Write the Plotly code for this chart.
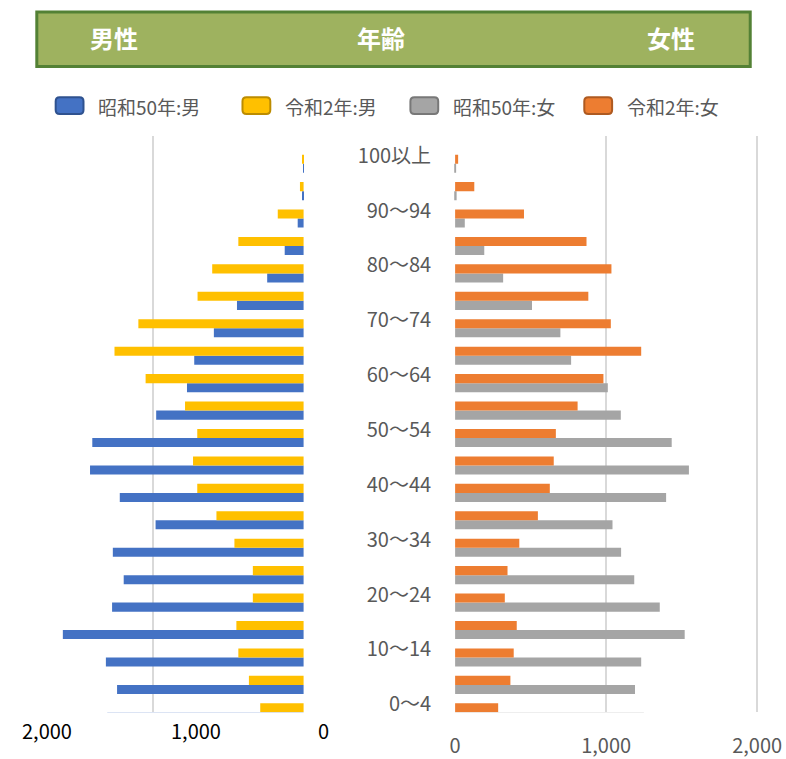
import plotly.graph_objects as go

W, H = 786, 759

ages = ["0〜4", "5〜9", "10〜14", "15〜19", "20〜24", "25〜29", "30〜34", "35〜39",
        "40〜44", "45〜49", "50〜54", "55〜59", "60〜64", "65〜69", "70〜74", "75〜79",
        "80〜84", "85〜89", "90〜94", "95〜99", "100以上"]
age_ticks = ["0〜4", "10〜14", "20〜24", "30〜34", "40〜44", "50〜54",
             "60〜64", "70〜74", "80〜84", "90〜94", "100以上"]

male_s50 = [1300, 1235, 1309, 1594, 1268, 1191, 1263, 980, 1217, 1414, 1399,
            976, 772, 724, 594, 441, 241, 125, 39, 7, 1]
male_r2 = [287, 362, 432, 445, 336, 336, 458, 577, 704, 732, 704,
           785, 1046, 1252, 1094, 702, 605, 432, 171, 24, 5]
female_s50 = [1250, 1191, 1232, 1520, 1355, 1186, 1099, 1042, 1397, 1548, 1434,
              1097, 1011, 768, 697, 509, 318, 193, 64, 10, 1]
female_r2 = [285, 366, 388, 408, 329, 347, 425, 548, 627, 653, 667,
             811, 982, 1232, 1031, 882, 1035, 870, 456, 127, 20]

series_names = ["昭和50年:男", "令和2年:男", "昭和50年:女", "令和2年:女"]
colors = ["#4472C4", "#FFC000", "#A5A5A5", "#ED7D31"]
border_colors = ["#2F528F", "#BC8C00", "#787878", "#AE5A21"]
header_labels = ["男性", "年齢", "女性"]
x_ticks = [0, 1000, 2000]
x_ticktext = ["0", "1,000", "2,000"]

FONT = "Noto Sans CJK JP"

fig = go.Figure()
fig.add_trace(go.Bar(y=ages, x=male_s50, orientation="h", name=series_names[0],
                     marker=dict(color=colors[0], line=dict(width=0)),
                     xaxis="x", yaxis="y", showlegend=False))
fig.add_trace(go.Bar(y=ages, x=male_r2, orientation="h", name=series_names[1],
                     marker=dict(color=colors[1], line=dict(width=0)),
                     xaxis="x", yaxis="y", showlegend=False))
fig.add_trace(go.Bar(y=ages, x=female_s50, orientation="h", name=series_names[2],
                     marker=dict(color=colors[2], line=dict(width=0)),
                     xaxis="x2", yaxis="y2", showlegend=False))
fig.add_trace(go.Bar(y=ages, x=female_r2, orientation="h", name=series_names[3],
                     marker=dict(color=colors[3], line=dict(width=0)),
                     xaxis="x2", yaxis="y2", showlegend=False))

px_per_unit = 0.152
left_zero = 300.5
right_zero = 453
plot_top, plot_bottom = 137, 718

y_dom = [(H - plot_bottom) / H, (H - plot_top) / H]
y_range = [0, 20 + (165 - plot_top) / 27.65]

fig.update_layout(
    width=W, height=H,
    margin=dict(l=0, r=0, t=0, b=0),
    paper_bgcolor="white", plot_bgcolor="white",
    barmode="group", bargap=0.34, bargroupgap=0,
    font=dict(family=FONT, color="#595959"),
    xaxis=dict(domain=[0, (left_zero + 1) / W],
               range=[(left_zero) / px_per_unit, -1 / px_per_unit],
               tickvals=x_ticks, showticklabels=False,
               showgrid=True, gridcolor="#D9D9D9", gridwidth=2,
               zeroline=False, showline=False, fixedrange=True),
    yaxis=dict(domain=y_dom, range=y_range, type="category",
               categoryorder="array", categoryarray=ages,
               showticklabels=False, showgrid=False, zeroline=False, showline=False),
    xaxis2=dict(domain=[(right_zero - 1) / W, 1],
                range=[-1 / px_per_unit, (W - right_zero) / px_per_unit],
                tickvals=x_ticks, ticktext=x_ticktext,
                tickfont=dict(size=20, color="#595959", family=FONT),
                ticklabelstandoff=20,
                showgrid=True, gridcolor="#D9D9D9", gridwidth=2,
                zeroline=False, showline=False, anchor="y2"),
    yaxis2=dict(domain=y_dom, range=y_range, type="category",
                categoryorder="array", categoryarray=ages,
                tickvals=age_ticks, ticktext=age_ticks,
                tickfont=dict(size=20, color="#595959", family=FONT),
                ticklabelstandoff=22, ticklabelshift=-8,
                showgrid=False, zeroline=False, showline=False,
                anchor="x2", side="left"),
)

# left bottom tick labels (positioned as in the source picture)
left_label_x = [321, 192, 42]
for val, txt, xp in zip(x_ticks, x_ticktext, left_label_x):
    fig.add_annotation(x=xp / W, y=(H - 736) / H, xref="paper", yref="paper",
                       text=txt, showarrow=False,
                       font=dict(size=20, color="#000000", family=FONT),
                       xanchor="center", yanchor="middle")

# header band
fig.add_shape(type="rect", xref="paper", yref="paper",
              x0=32 / W, x1=750 / W, y0=(H - 67) / H, y1=(H - 12) / H,
              fillcolor="#9EB25F", line=dict(color="#538135", width=3), layer="above")
for txt, xc in zip(header_labels, [110, 378, 670]):
    fig.add_annotation(x=xc / W, y=(H - 38) / H, xref="paper", yref="paper",
                       text=f"<b>{txt}</b>", showarrow=False,
                       font=dict(size=24, color="white", family=FONT),
                       xanchor="center", yanchor="middle")


def rounded_rect_path(px0, py0, px1, py1, r):
    def X(v):
        return v / W

    def Y(v):
        return (H - v) / H
    return (f"M {X(px0 + r)},{Y(py0)} L {X(px1 - r)},{Y(py0)} "
            f"Q {X(px1)},{Y(py0)} {X(px1)},{Y(py0 + r)} "
            f"L {X(px1)},{Y(py1 - r)} Q {X(px1)},{Y(py1)} {X(px1 - r)},{Y(py1)} "
            f"L {X(px0 + r)},{Y(py1)} Q {X(px0)},{Y(py1)} {X(px0)},{Y(py1 - r)} "
            f"L {X(px0)},{Y(py0 + r)} Q {X(px0)},{Y(py0)} {X(px0 + r)},{Y(py0)} Z")


# legend
marker_x = [51, 239, 408, 583]
for name, c, bc, mx in zip(series_names, colors, border_colors, marker_x):
    fig.add_shape(type="path", xref="paper", yref="paper",
                  path=rounded_rect_path(mx, 98, mx + 28, 115, 4),
                  fillcolor=c, line=dict(color=bc, width=2))
    fig.add_annotation(x=(mx + 41) / W, y=(H - 107) / H, xref="paper", yref="paper",
                       text=name, showarrow=False,
                       font=dict(size=19, color="#595959", family=FONT),
                       xanchor="left", yanchor="middle")

fig.write_html("out.html", config={"displayModeBar": False},
               post_script="document.body.style.margin='0px';")
